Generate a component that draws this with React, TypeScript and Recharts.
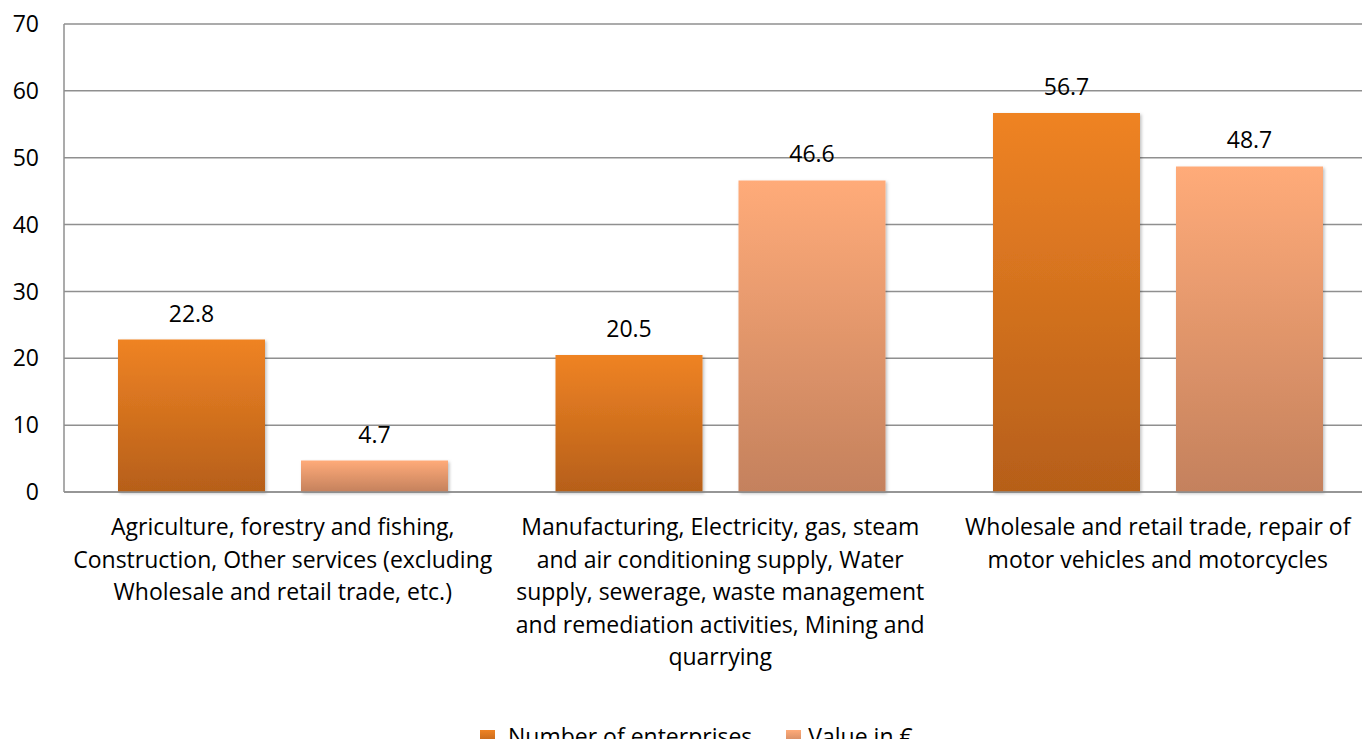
import { BarChart, Bar, XAxis, YAxis, CartesianGrid, Legend, LabelList } from "recharts";

const categoryLines = [
  ["Agriculture, forestry and fishing,", "Construction, Other services (excluding", "Wholesale and retail trade, etc.)"],
  [
    "Manufacturing, Electricity, gas, steam",
    "and air conditioning supply, Water",
    "supply, sewerage, waste management",
    "and remediation activities, Mining and",
    "quarrying",
  ],
  ["Wholesale and retail trade, repair of", "motor vehicles and motorcycles"],
];
const enterprises = [22.8, 20.5, 56.7];
const valueEur = [4.7, 46.6, 48.7];
const yTicks = [0, 10, 20, 30, 40, 50, 60, 70];
const seriesNames = { enterprises: "Number of enterprises", value: "Value in €" };

const FONT = "'Open Sans', Lato, sans-serif";
const FS = 23;
const GRID = "#8f8f8f";
const orange = { top: "#EF8324", bottom: "#B65F19" };
const peach = { top: "#FFAB79", bottom: "#C4815D" };

const data = categoryLines.map((lines, i) => ({
  name: lines.join(" "),
  enterprises: enterprises[i],
  value: valueEur[i],
}));

function CategoryTick(props: any) {
  const { x, y, index } = props;
  const lines = categoryLines[index] || [];
  return (
    <text x={x} y={y + 43} textAnchor="middle" fill="#000" fontSize={FS} fontFamily={FONT}>
      {lines.map((l, i) => (
        <tspan key={i} x={x} dy={i === 0 ? 0 : 32.5}>
          {l}
        </tspan>
      ))}
    </text>
  );
}

function LegendContent(props: any) {
  const { payload = [] } = props;
  return (
    <div style={{ height: 40, display: "flex", paddingLeft: 480, paddingTop: 17, boxSizing: "border-box", fontFamily: FONT, fontSize: FS, color: "#000", lineHeight: "24px" }}>
      {payload.map((p: any, i: number) => {
        const c = p.dataKey === "enterprises" ? orange : peach;
        return (
          <div key={i} style={{ display: "flex", alignItems: "center", marginRight: 34 }}>
            <span style={{ width: 15, height: 15, marginTop: 4, marginRight: i === 0 ? 13 : 7, background: `linear-gradient(${c.top}, ${c.bottom})`, display: "inline-block" }} />
            <span>{p.value}</span>
          </div>
        );
      })}
    </div>
  );
}

export default function App() {
  return (
    <div style={{ margin: -8, width: 1370, height: 747, overflow: "hidden", position: "relative", background: "#fff" }}>
      <svg width={1370} height={30} style={{ position: "absolute", left: 0, top: 0 }}>
        <text x={553} y={1} fontFamily={FONT} fontWeight="bold" fontSize={26} fill="#000">
          Share by sector, %
        </text>
      </svg>
      <BarChart
        width={1380}
        height={747}
        data={data}
        margin={{ top: 24, right: 3.5, left: 0, bottom: 0 }}
        barSize={147}
        barGap={36}
      >
        <defs>
          <linearGradient id="gOrange" x1="0" y1="0" x2="0" y2="1">
            <stop offset="0%" stopColor={orange.top} />
            <stop offset="100%" stopColor={orange.bottom} />
          </linearGradient>
          <linearGradient id="gPeach" x1="0" y1="0" x2="0" y2="1">
            <stop offset="0%" stopColor={peach.top} />
            <stop offset="100%" stopColor={peach.bottom} />
          </linearGradient>
          <filter id="shadow" x="-5%" y="-5%" width="115%" height="115%">
            <feDropShadow dx="1.5" dy="1.5" stdDeviation="1.5" floodColor="#000" floodOpacity="0.25" />
          </filter>
        </defs>
        <CartesianGrid vertical={false} stroke={GRID} strokeWidth={1.5} />
        <XAxis
          dataKey="name"
          height={215}
          tickLine={false}
          tickSize={0}
          tickMargin={0}
          axisLine={{ stroke: GRID, strokeWidth: 1.5 }}
          tick={<CategoryTick />}
          interval={0}
        />
        <YAxis
          width={64}
          domain={[0, 70]}
          ticks={yTicks}
          tickLine={false}
          tickSize={0}
          tickMargin={25}
          axisLine={{ stroke: GRID, strokeWidth: 1.5 }}
          tick={{ fill: "#000", fontSize: FS, fontFamily: FONT }}
        />
        <Legend verticalAlign="bottom" content={<LegendContent />} wrapperStyle={{ left: 0, width: 1380 }} />
        <Bar dataKey="enterprises" name={seriesNames.enterprises} fill="url(#gOrange)" filter="url(#shadow)" isAnimationActive={false}>
          <LabelList dataKey="enterprises" position="top" offset={18} fill="#000" fontSize={FS} fontFamily={FONT} />
        </Bar>
        <Bar dataKey="value" name={seriesNames.value} fill="url(#gPeach)" filter="url(#shadow)" isAnimationActive={false}>
          <LabelList dataKey="value" position="top" offset={18} fill="#000" fontSize={FS} fontFamily={FONT} />
        </Bar>
      </BarChart>
    </div>
  );
}
